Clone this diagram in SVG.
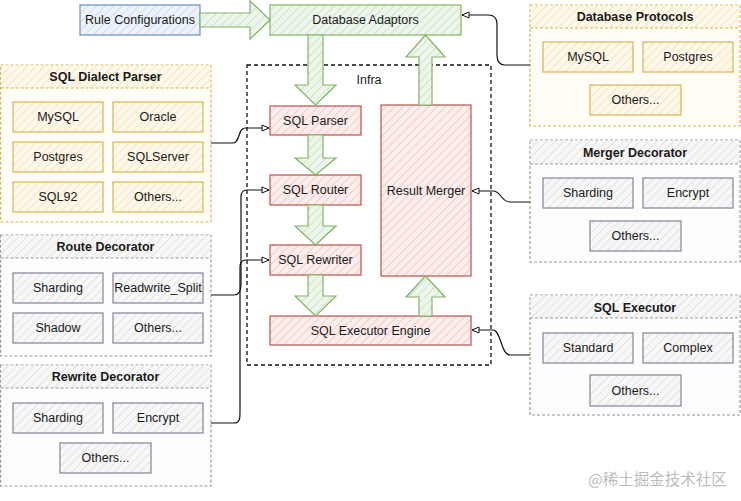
<svg xmlns="http://www.w3.org/2000/svg" width="741" height="501" viewBox="0 0 741 501">
<defs>
<pattern id="hBlue" width="6" height="6" patternUnits="userSpaceOnUse" patternTransform="rotate(45)"><rect width="6" height="6" fill="#eef4fc"/><line x1="0" y1="0" x2="0" y2="6" stroke="#c6d8f0" stroke-width="1.6"/></pattern>
<pattern id="hGreen" width="6" height="6" patternUnits="userSpaceOnUse" patternTransform="rotate(45)"><rect width="6" height="6" fill="#eef6ec"/><line x1="0" y1="0" x2="0" y2="6" stroke="#c6e0c0" stroke-width="1.6"/></pattern>
<pattern id="hRed" width="6" height="6" patternUnits="userSpaceOnUse" patternTransform="rotate(45)"><rect width="6" height="6" fill="#fbeeec"/><line x1="0" y1="0" x2="0" y2="6" stroke="#efc4c1" stroke-width="1.6"/></pattern>
<pattern id="hYellow" width="6" height="6" patternUnits="userSpaceOnUse" patternTransform="rotate(45)"><rect width="6" height="6" fill="#fdf8ea"/><line x1="0" y1="0" x2="0" y2="6" stroke="#f0e2b8" stroke-width="1.6"/></pattern>
<pattern id="hGray" width="6" height="6" patternUnits="userSpaceOnUse" patternTransform="rotate(45)"><rect width="6" height="6" fill="#f7f7f7"/><line x1="0" y1="0" x2="0" y2="6" stroke="#dedede" stroke-width="1.6"/></pattern>
<marker id="oa" markerWidth="10" markerHeight="10" refX="8" refY="4" orient="auto" markerUnits="userSpaceOnUse"><path d="M1,1 L8,4 L1,7 Z" fill="#fff" stroke="#111" stroke-width="1"/></marker>
</defs>
<style>
text{font-family:"Liberation Sans",Arial,sans-serif;font-size:12.5px;fill:#1a1a1a;text-anchor:middle;dominant-baseline:central}
.t{font-weight:bold}
.blue{fill:url(#hBlue);stroke:#6c8ebf;stroke-width:1.2}
.green{fill:url(#hGreen);stroke:#82b366;stroke-width:1.2}
.red{fill:url(#hRed);stroke:#b85450;stroke-width:1.2}
.yel{fill:url(#hYellow);stroke:#d6b656;stroke-width:1.2}
.yelc{fill:#fffdf6;stroke:#d6b656;stroke-width:1.2;stroke-dasharray:3 2}
.yelh{fill:url(#hYellow);stroke:none}
.yell{stroke:#d6b656;stroke-width:1.2;stroke-dasharray:3 2}
.gi{fill:url(#hGray);stroke:#8c7d98;stroke-width:1.2}
.grc{fill:#fdfdfd;stroke:#9a9a9a;stroke-width:1.2;stroke-dasharray:3 2}
.grh{fill:url(#hGray);stroke:none}
.grl{stroke:#9a9a9a;stroke-width:1.2;stroke-dasharray:3 2}
.infra{fill:none;stroke:#111;stroke-width:1.3;stroke-dasharray:4 3}
.conn{fill:none;stroke:#111;stroke-width:1.2;marker-end:url(#oa)}
.wm{font-family:"Noto Sans CJK SC","Noto Sans",sans-serif;font-size:15.5px;fill:#bdbdbd;text-anchor:start}
</style>
<rect width="741" height="501" fill="#ffffff"/>

<g id="infra"><rect class="infra" x="247" y="65" width="244" height="300"/><text x="369" y="80">Infra</text></g>

<g id="rule-configurations"><rect class="blue" x="80" y="5" width="120" height="30"/><text x="140" y="20">Rule Configurations</text></g>
<g id="database-adaptors"><rect class="green" x="270" y="5" width="191" height="30"/><text x="365.5" y="20">Database Adaptors</text></g>
<g id="sql-parser"><rect class="red" x="270" y="106" width="91" height="29"/><text x="315.5" y="120.5">SQL Parser</text></g>
<g id="sql-router"><rect class="red" x="270" y="175" width="91" height="30"/><text x="315.5" y="190">SQL Router</text></g>
<g id="sql-rewriter"><rect class="red" x="270" y="245" width="91" height="30"/><text x="315.5" y="260">SQL Rewriter</text></g>
<g id="sql-executor-engine"><rect class="red" x="270" y="316" width="201" height="29"/><text x="370.5" y="330.5">SQL Executor Engine</text></g>
<g id="result-merger"><rect class="red" x="381" y="105" width="90" height="171"/><text x="426" y="191">Result Merger</text></g>

<g id="sql-dialect-parser">
<rect class="yelc" x="0.6" y="65" width="210.4" height="157"/>
<rect class="yelh" x="1.2" y="65.6" width="209.2" height="22.4"/>
<line class="yell" x1="0.6" y1="88" x2="211" y2="88"/>
<text class="t" x="105.5" y="77">SQL Dialect Parser</text>
<rect class="yel" x="13" y="102" width="90" height="30"/><text x="58" y="117">MySQL</text>
<rect class="yel" x="113" y="102" width="90" height="30"/><text x="158" y="117">Oracle</text>
<rect class="yel" x="13" y="142" width="90" height="30"/><text x="58" y="157">Postgres</text>
<rect class="yel" x="113" y="142" width="90" height="30"/><text x="158" y="157">SQLServer</text>
<rect class="yel" x="13" y="182" width="90" height="30"/><text x="58" y="197">SQL92</text>
<rect class="yel" x="113" y="182" width="90" height="30"/><text x="158" y="197">Others...</text>
</g>

<g id="route-decorator">
<rect class="grc" x="0.6" y="235" width="210.4" height="121"/>
<rect class="grh" x="1.2" y="235.6" width="209.2" height="22.4"/>
<line class="grl" x1="0.6" y1="258" x2="211" y2="258"/>
<text class="t" x="105.5" y="247">Route Decorator</text>
<rect class="gi" x="13" y="273" width="90" height="30"/><text x="58" y="288">Sharding</text>
<rect class="gi" x="113" y="273" width="90" height="30"/><text x="158" y="288">Readwrite_Split</text>
<rect class="gi" x="13" y="313" width="90" height="30"/><text x="58" y="328">Shadow</text>
<rect class="gi" x="113" y="313" width="90" height="30"/><text x="158" y="328">Others...</text>
</g>

<g id="rewrite-decorator">
<rect class="grc" x="0.6" y="365" width="210.4" height="121"/>
<rect class="grh" x="1.2" y="365.6" width="209.2" height="22.4"/>
<line class="grl" x1="0.6" y1="388" x2="211" y2="388"/>
<text class="t" x="105.5" y="377">Rewrite Decorator</text>
<rect class="gi" x="13" y="403" width="90" height="30"/><text x="58" y="418">Sharding</text>
<rect class="gi" x="113" y="403" width="90" height="30"/><text x="158" y="418">Encrypt</text>
<rect class="gi" x="60" y="443" width="91" height="30"/><text x="105.5" y="458">Others...</text>
</g>

<g id="database-protocols">
<rect class="yelc" x="530" y="5" width="210" height="121"/>
<rect class="yelh" x="530.6" y="5.6" width="208.8" height="22.4"/>
<line class="yell" x1="530" y1="28" x2="740" y2="28"/>
<text class="t" x="635" y="17">Database Protocols</text>
<rect class="yel" x="543" y="42" width="90" height="30"/><text x="588" y="57">MySQL</text>
<rect class="yel" x="643" y="42" width="90" height="30"/><text x="688" y="57">Postgres</text>
<rect class="yel" x="590" y="85" width="91" height="30"/><text x="635.5" y="100">Others...</text>
</g>

<g id="merger-decorator">
<rect class="grc" x="530" y="140" width="210" height="122"/>
<rect class="grh" x="530.6" y="140.6" width="208.8" height="23.4"/>
<line class="grl" x1="530" y1="164" x2="740" y2="164"/>
<text class="t" x="635" y="153">Merger Decorator</text>
<rect class="gi" x="543" y="178" width="90" height="30"/><text x="588" y="193">Sharding</text>
<rect class="gi" x="643" y="178" width="90" height="30"/><text x="688" y="193">Encrypt</text>
<rect class="gi" x="590" y="221" width="91" height="30"/><text x="635.5" y="236">Others...</text>
</g>

<g id="sql-executor">
<rect class="grc" x="530" y="295" width="210" height="120"/>
<rect class="grh" x="530.6" y="295.6" width="208.8" height="22.4"/>
<line class="grl" x1="530" y1="318" x2="740" y2="318"/>
<text class="t" x="635" y="308">SQL Executor</text>
<rect class="gi" x="543" y="333" width="90" height="30"/><text x="588" y="348">Standard</text>
<rect class="gi" x="643" y="333" width="90" height="30"/><text x="688" y="348">Complex</text>
<rect class="gi" x="590" y="375" width="91" height="31"/><text x="635.5" y="390.5">Others...</text>
</g>

<g id="connectors">
<polygon class="green" points="200,13 250,13 250,0.8 270,20 250,39.2 250,27 200,27"/>
<polygon class="green" points="308,35 323,35 323,85 336,85 315.5,105 295,85 308,85"/>
<polygon class="green" points="308,135 323,135 323,158 336,158 315.5,175 295,158 308,158"/>
<polygon class="green" points="308,205 323,205 323,226 336,226 315.5,245 295,226 308,226"/>
<polygon class="green" points="308,275 323,275 323,296 336,296 315.5,316 295,296 308,296"/>
<polygon class="green" points="419,316 432,316 432,297 445,297 425.5,276 406,297 419,297"/>
<polygon class="green" points="419,105 432,105 432,57 445,57 425.5,35 406,57 419,57"/>
<path class="conn" d="M211,143 H233 C240,143 238,128 245,128 H269"/>
<path class="conn" d="M211,295 H234 C240,295 241,290 241,284 V197 C241,192 243,190 247,190 H269"/>
<path class="conn" d="M211,423 H234 C240,423 240,418 240,412 V267 C240,262 242,260 246,260 H269"/>
<path class="conn" d="M530,65 H505 C499,65 497,60 497,55 V24 C497,18 494,15 488,15 H462"/>
<path class="conn" d="M530,202 H510 C501,202 501,191 493,191 H472"/>
<path class="conn" d="M530,355 H510 C501,355 501,330 493,330 H472"/>
</g>

<text class="wm" x="588" y="478">@稀土掘金技术社区</text>
</svg>
